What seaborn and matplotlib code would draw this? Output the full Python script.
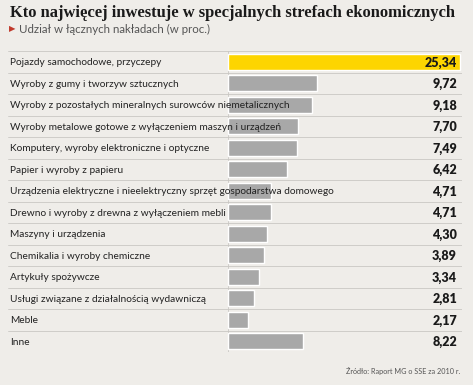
import pandas as pd
import seaborn as sns
import matplotlib.pyplot as plt
from matplotlib import transforms

# dane
kategorie = [
    "Pojazdy samochodowe, przyczepy",
    "Wyroby z gumy i tworzyw sztucznych",
    "Wyroby z pozostałych mineralnych surowców niemetalicznych",
    "Wyroby metalowe gotowe z wyłączeniem maszyn i urządzeń",
    "Komputery, wyroby elektroniczne i optyczne",
    "Papier i wyroby z papieru",
    "Urządzenia elektryczne i nieelektryczny sprzęt gospodarstwa domowego",
    "Drewno i wyroby z drewna z wyłączeniem mebli",
    "Maszyny i urządzenia",
    "Chemikalia i wyroby chemiczne",
    "Artykuły spożywcze",
    "Usługi związane z działalnością wydawniczą",
    "Meble",
    "Inne",
]
udzial = [25.34, 9.72, 9.18, 7.70, 7.49, 6.42, 4.71, 4.71, 4.30, 3.89, 3.34, 2.81, 2.17, 8.22]
etykiety = ["25,34", "9,72", "9,18", "7,70", "7,49", "6,42", "4,71", "4,71", "4,30",
            "3,89", "3,34", "2,81", "2,17", "8,22"]

df = pd.DataFrame({"kategoria": kategorie, "udzial": udzial})
df["kolor"] = ["top"] + ["rest"] * (len(df) - 1)

bg = "#efede9"
sns.set_theme(style="white")
plt.rcParams["font.family"] = ["Lato", "DejaVu Sans"]

fig = plt.figure(figsize=(4.73, 3.85), dpi=100, facecolor=bg)
# axes from x=8 to x=462 px, rows from y=51 to y=352 px
ax = fig.add_axes([8 / 473, 1 - 352 / 385, 454 / 473, 301 / 385])
ax.set_facecolor(bg)

sns.barplot(data=df, y="kategoria", x="udzial", hue="kolor", orient="h",
            palette={"top": "#fdd500", "rest": "#a8a8a8"}, width=0.75,
            dodge=False, legend=False, ax=ax, saturation=1)

px_per_unit = 232 / 25.34
ax.set_xlim(-220 / px_per_unit, 234 / px_per_unit)
ax.set_ylim(len(df) - 0.5, -0.5)

# linie oddzielające wiersze
for i in range(len(df) + 1):
    ax.axhline(i - 0.5, color="#c9c7c3", lw=0.6, zorder=0.5)
ax.axvline(0, color="#c9c7c3", lw=0.6, zorder=0.5)

for s in ax.spines.values():
    s.set_visible(False)
ax.set_xticks([])
ax.set_yticks([])
ax.set_xlabel("")
ax.set_ylabel("")

trans = transforms.blended_transform_factory(ax.transAxes, ax.transData)
for i, (k, e) in enumerate(zip(kategorie, etykiety)):
    ax.text(2 / 454, i, k, transform=trans, ha="left", va="center_baseline",
            fontsize=7.3, color="#222222", zorder=5)
    ax.text(449 / 454, i, e, transform=trans, ha="right", va="center_baseline",
            fontsize=9, fontweight="heavy", color="#1a1a1a", zorder=5)

fig.text(10 / 473, 1 - 13 / 385, "Kto najwięcej inwestuje w specjalnych strefach ekonomicznych",
         fontsize=11.9, fontweight="bold", family=["Liberation Serif", "DejaVu Serif"],
         ha="left", va="center", color="#1a1a1a")
fig.text(9 / 473, 1 - 29 / 385, "▶", fontsize=6, color="#c0392b",
         ha="left", va="center", family=["DejaVu Sans"])
fig.text(19 / 473, 1 - 29 / 385, "Udział w łącznych nakładach (w proc.)",
         fontsize=8.3, color="#555555", ha="left", va="center")
fig.text(460 / 473, 1 - 371 / 385, "Źródło: Raport MG o SSE za 2010 r.",
         fontsize=5.2, color="#555555", ha="right", va="center")

plt.savefig("out.png", dpi=100, facecolor=bg)
